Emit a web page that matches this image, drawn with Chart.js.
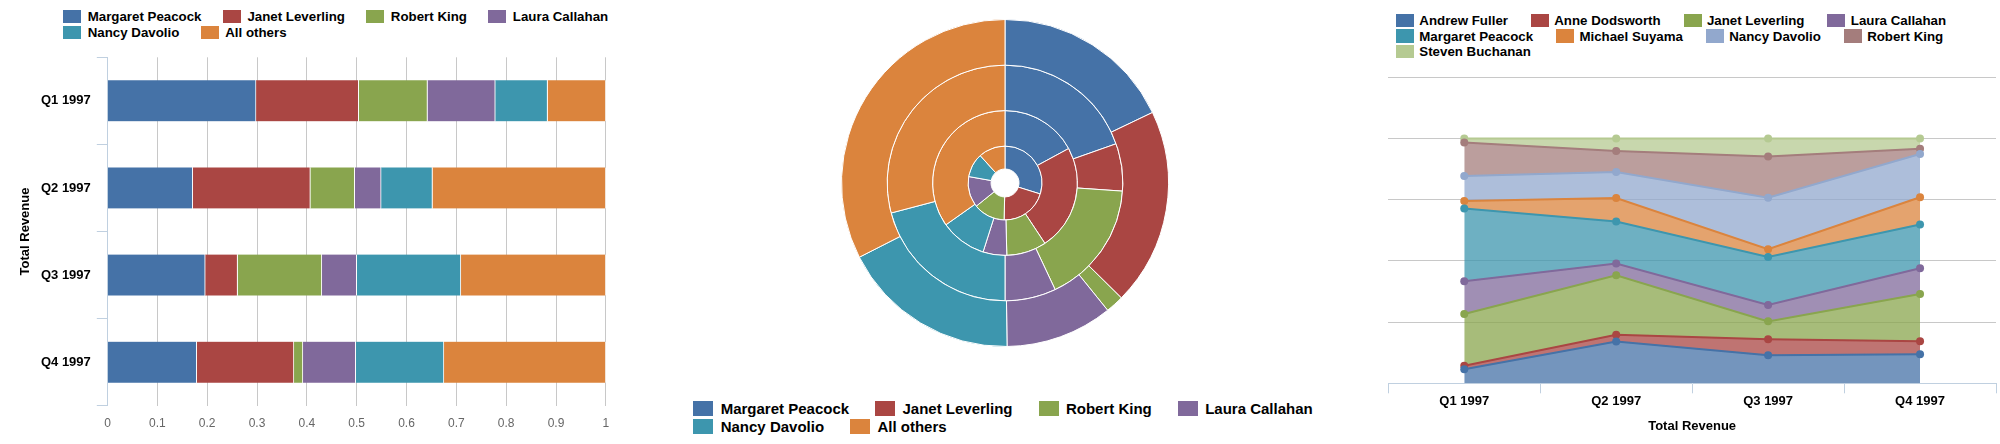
<!DOCTYPE html>
<html>
<head>
<meta charset="utf-8">
<script src="https://cdn.jsdelivr.net/npm/chart.js@4.4.1/dist/chart.umd.min.js"></script>
<style>
html,body{margin:0;padding:0;background:#fff;width:2000px;height:444px;overflow:hidden;font-family:"Liberation Sans",Arial,sans-serif;}
canvas{position:absolute;}
.legend{position:absolute;display:flex;flex-wrap:wrap;align-content:flex-start;font-weight:bold;color:#000;}
.item{display:flex;align-items:center;white-space:nowrap;}
.box{display:inline-block;flex:none;}
</style>
</head>
<body>
<div id="barLegend" class="legend" style="left:63.3px;top:8px;width:580px;font-size:13.3px"></div>
<div id="pieLegend" class="legend" style="left:693.3px;top:399.2px;width:660px;font-size:15px"></div>
<div id="areaLegend" class="legend" style="left:1396px;top:12.9px;width:590px;font-size:13.3px"></div>
<canvas id="bar" width="620" height="444" style="left:0;top:0"></canvas>
<canvas id="pie" width="330" height="330" style="left:840px;top:18px"></canvas>
<canvas id="area" width="620" height="444" style="left:1380px;top:0"></canvas>
<script>
// ---------- data ----------
const quarters = ['Q1 1997', 'Q2 1997', 'Q3 1997', 'Q4 1997'];

// share of quarterly revenue (bar + multi-ring pie)
const shareLabels = ['Margaret Peacock', 'Janet Leverling', 'Robert King', 'Laura Callahan', 'Nancy Davolio', 'All others'];
const margaretShare = [0.298, 0.171, 0.196, 0.179];
const janetShare    = [0.206, 0.236, 0.065, 0.195];
const robertShare   = [0.138, 0.089, 0.169, 0.018];
const lauraShare    = [0.136, 0.053, 0.070, 0.106];
const nancyShare    = [0.105, 0.103, 0.209, 0.177];
const othersShare   = [0.117, 0.348, 0.291, 0.325];
const shareTicks = ['0', '0.1', '0.2', '0.3', '0.4', '0.5', '0.6', '0.7', '0.8', '0.9', '1'];

// stacked area (share per employee)
const employees = ['Andrew Fuller', 'Anne Dodsworth', 'Janet Leverling', 'Laura Callahan', 'Margaret Peacock', 'Michael Suyama', 'Nancy Davolio', 'Robert King', 'Steven Buchanan'];
const andrewArea   = [0.057, 0.171, 0.115, 0.119];
const anneArea     = [0.015, 0.027, 0.065, 0.053];
const janetArea    = [0.211, 0.243, 0.073, 0.193];
const lauraArea    = [0.134, 0.048, 0.067, 0.105];
const margaretArea = [0.297, 0.172, 0.196, 0.179];
const michaelArea  = [0.031, 0.096, 0.032, 0.111];
const nancyArea    = [0.102, 0.106, 0.210, 0.177];
const robertArea   = [0.137, 0.086, 0.168, 0.021];
const stevenArea   = [0.016, 0.051, 0.074, 0.042];

// ---------- styles ----------
const shareColors = ['#4572A7', '#AA4643', '#89A54E', '#80699B', '#3D96AE', '#DB843D'];
const areaColors = ['#4572A7', '#AA4643', '#89A54E', '#80699B', '#3D96AE', '#DB843D', '#92A8CD', '#A47D7C', '#B5CA92'];
function alpha(hex, a) {
  const n = parseInt(hex.slice(1), 16);
  return 'rgba(' + (n >> 16) + ',' + ((n >> 8) & 255) + ',' + (n & 255) + ',' + a + ')';
}
Chart.defaults.font.family = '"Liberation Sans", Arial, sans-serif';
Chart.defaults.color = '#000';

function makeLegend(id, labels, colors, o) {
  const el = document.getElementById(id);
  labels.forEach((t, i) => {
    const it = document.createElement('div');
    it.className = 'item';
    it.style.height = o.rowH + 'px';
    it.style.marginRight = o.itemGap + 'px';
    const b = document.createElement('span');
    b.className = 'box';
    b.style.width = o.boxW + 'px';
    b.style.height = o.boxH + 'px';
    b.style.background = colors[i];
    const s = document.createElement('span');
    s.textContent = t;
    s.style.marginLeft = o.textGap + 'px';
    it.appendChild(b); it.appendChild(s);
    el.appendChild(it);
  });
}
makeLegend('barLegend', shareLabels, shareColors, {rowH: 16, itemGap: 21.5, boxW: 18, boxH: 13, textGap: 6.4});
makeLegend('pieLegend', shareLabels, shareColors, {rowH: 18.3, itemGap: 26, boxW: 20, boxH: 14.7, textGap: 7.4});
makeLegend('areaLegend', employees, areaColors, {rowH: 15.5, itemGap: 23, boxW: 18, boxH: 13.3, textGap: 5.3});

const shareSeries = [margaretShare, janetShare, robertShare, lauraShare, nancyShare, othersShare];
const areaSeries = [andrewArea, anneArea, janetArea, lauraArea, margaretArea, michaelArea, nancyArea, robertArea, stevenArea];
const common = {responsive: false, animation: false, events: [], plugins: {legend: {display: false}, tooltip: {enabled: false}}};

// ---------- bar ----------
new Chart(document.getElementById('bar'), {
  type: 'bar',
  data: {
    labels: quarters,
    datasets: shareSeries.map((d, i) => ({
      label: shareLabels[i], data: d, backgroundColor: shareColors[i],
      borderColor: '#fff', borderWidth: {top: 0, bottom: 0, left: 0, right: 1}, borderSkipped: false,
      barThickness: 41
    }))
  },
  options: Object.assign({}, common, {
    indexAxis: 'y',
    layout: {padding: {top: 57.3, right: 12.5, left: 0, bottom: 0}},
    scales: {
      x: {
        stacked: true, min: 0, max: 1,
        ticks: {stepSize: 0.1, padding: 10.8, color: '#666', font: {size: 12}, autoSkip: false, maxRotation: 0,
                callback: (v, i) => shareTicks[i]},
        grid: {color: c => c.index === 0 ? 'rgba(0,0,0,0)' : '#C8C8C8', drawTicks: false},
        border: {display: false},
        afterFit: s => { s.height = 38.3; }
      },
      y: {
        stacked: true,
        ticks: {padding: 6, color: '#000', font: {size: 13, weight: 'bold'}},
        grid: {drawOnChartArea: false, tickLength: 10.7, color: '#C0D0E0', offset: true},
        border: {color: '#C0D0E0'},
        title: {display: true, text: 'Total Revenue', color: '#000', font: {size: 13, weight: 'bold'}, padding: {top: 17.9, bottom: 0}},
        afterFit: s => { s.width = 107.5; }
      }
    }
  })
});

// ---------- multi-ring pie ----------
const ringWeights = [23, 35.5, 45.5, 45.7];
new Chart(document.getElementById('pie'), {
  type: 'doughnut',
  data: {
    labels: shareLabels,
    datasets: [3, 2, 1, 0].map(q => ({
      label: quarters[q], data: shareSeries.map(s => s[q]),
      backgroundColor: shareColors, borderColor: '#fff', borderWidth: 1, weight: ringWeights[q]
    }))
  },
  options: Object.assign({}, common, {cutout: '8.55%', radius: 163.5, layout: {padding: 0}})
});

// ---------- stacked area ----------
new Chart(document.getElementById('area'), {
  type: 'line',
  data: {
    labels: quarters,
    datasets: areaSeries.map((d, i) => ({
      label: employees[i], data: d,
      borderColor: areaColors[i], backgroundColor: alpha(areaColors[i], 0.75),
      fill: i === 0 ? 'origin' : '-1', borderWidth: 2, tension: 0,
      pointRadius: 4, pointBorderWidth: 0, pointBackgroundColor: areaColors[i]
    }))
  },
  options: Object.assign({}, common, {
    layout: {padding: {left: 8.3, right: 3.7, top: 77.3, bottom: 0}},
    scales: {
      x: {
        offset: true,
        grid: {offset: true, drawOnChartArea: false, tickLength: 10, color: '#C0D0E0'},
        border: {color: '#C0D0E0'},
        ticks: {padding: 0, color: '#000', font: {size: 13, weight: 'bold'}},
        title: {display: true, text: 'Total Revenue', color: '#000', font: {size: 13, weight: 'bold'}, padding: {top: 4, bottom: 9.5}},
        afterFit: s => { s.height = 60.7; }
      },
      y: {
        stacked: true, min: 0, max: 1.25,
        ticks: {display: false, stepSize: 0.25},
        grid: {color: c => c.index === 0 ? 'rgba(0,0,0,0)' : '#C8C8C8', drawTicks: false},
        border: {display: false},
        afterFit: s => { s.width = 0; }
      }
    }
  })
});
</script>
</body>
</html>
